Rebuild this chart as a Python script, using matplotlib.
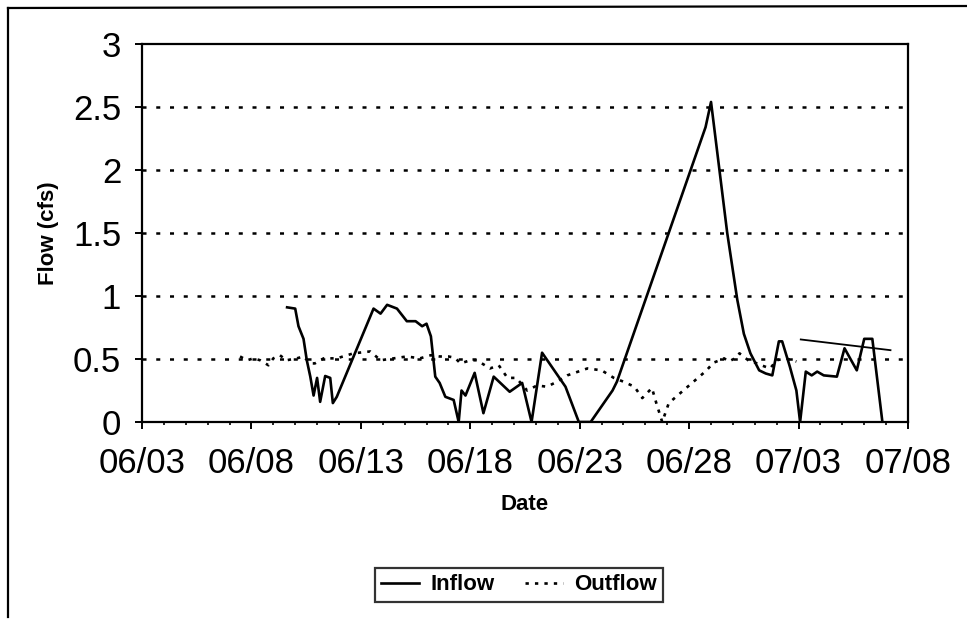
import numpy as np
import matplotlib
matplotlib.use('Agg')
from matplotlib import pyplot as plt
from matplotlib.lines import Line2D

plt.rcParams['font.family'] = ['Liberation Sans', 'DejaVu Sans']
plt.rcParams['lines.scale_dashes'] = False

# days after 06/03 and flow (cfs)
inflow_day = [6.63, 7.0, 7.15, 7.38, 7.53, 7.69, 7.84, 8.0, 8.14, 8.37, 8.6, 8.72, 8.9,
              10.58, 10.9, 11.2, 11.65, 12.1, 12.5, 12.8, 13.0, 13.2, 13.4, 13.6, 13.86,
              14.24, 14.47, 14.6, 14.78, 15.2, 15.6, 16.07, 16.8, 17.37, 17.8, 18.28,
              19.35, 19.96, 20.5, 21.5, 21.7, 25.75, 26.0, 26.74, 27.2, 27.5, 27.8,
              28.2, 28.5, 28.8, 29.1, 29.25, 29.6, 29.9, 30.07, 30.33, 30.6, 30.85,
              31.15, 31.75, 32.1, 32.66, 33.0, 33.37, 33.83]
inflow = [0.91, 0.90, 0.76, 0.66, 0.49, 0.36, 0.21, 0.35, 0.16, 0.365, 0.35, 0.15, 0.20,
          0.90, 0.86, 0.93, 0.90, 0.80, 0.80, 0.76, 0.78, 0.68, 0.36, 0.31, 0.20,
          0.175, 0.0, 0.25, 0.21, 0.39, 0.07, 0.36, 0.24, 0.31, 0.0, 0.55,
          0.28, 0.0, 0.0, 0.25, 0.32, 2.34, 2.54, 1.50, 0.97, 0.70, 0.545,
          0.41, 0.385, 0.37, 0.64, 0.64, 0.44, 0.25, 0.0, 0.40, 0.37, 0.40,
          0.37, 0.36, 0.585, 0.41, 0.66, 0.66, 0.0]

# short separate solid segment near the end
extra_day = [30.1, 34.2]
extra = [0.655, 0.57]

outflow_day = [4.48, 4.8, 5.1, 5.4, 5.78, 6.0, 6.3, 6.6, 7.07, 7.38, 7.69, 7.9, 8.3, 8.9,
               9.66, 10.43, 10.9, 11.5, 12.1, 12.7, 13.2, 13.6, 14.0, 14.3, 14.55, 15.0,
               15.3, 15.9, 16.3, 16.7, 17.1, 17.6, 18.05, 18.5, 18.97, 19.43, 20.35,
               21.0, 21.56, 22.0, 22.5, 22.86, 23.3, 23.5, 23.77, 24.07, 24.6, 25.2,
               25.8, 26.1, 26.4, 26.6, 26.8, 27.1, 27.3, 27.7, 28.1, 28.3, 28.7, 29.0,
               29.4, 29.9]
outflow = [0.52, 0.49, 0.505, 0.49, 0.45, 0.505, 0.53, 0.49, 0.505, 0.52, 0.465, 0.465,
           0.505, 0.505, 0.545, 0.56, 0.49, 0.505, 0.52, 0.505, 0.53, 0.52, 0.52, 0.51,
           0.465, 0.49, 0.49, 0.425, 0.45, 0.35, 0.35, 0.25, 0.29, 0.28, 0.32, 0.37,
           0.425, 0.41, 0.35, 0.32, 0.28, 0.19, 0.27, 0.15, 0.0, 0.15, 0.23, 0.32,
           0.41, 0.47, 0.49, 0.505, 0.48, 0.505, 0.545, 0.49, 0.465, 0.45, 0.425, 0.49,
           0.505, 0.48]

tick_days = [0, 5, 10, 15, 20, 25, 30, 35]
tick_labels = ['06/03', '06/08', '06/13', '06/18', '06/23', '06/28', '07/03', '07/08']
y_ticks = [0, 0.5, 1, 1.5, 2, 2.5, 3]
y_labels = ['0', '0.5', '1', '1.5', '2', '2.5', '3']

fig = plt.figure(figsize=(9.67, 6.29), dpi=100)
ax = fig.add_axes([142/967, 1 - 422/629, 766/967, 378/629])

# outer frame (left and top edges visible in the scan)
fig.add_artist(Line2D([8/967, 8/967], [1 - 617/629, 1 - 8/629], color='black', lw=1.6,
                      transform=fig.transFigure))
fig.add_artist(Line2D([8/967, 1.0], [1 - 8/629, 1 - 6/629], color='black', lw=1.6,
                      transform=fig.transFigure))

for yv in y_ticks[1:-1]:
    ax.axhline(yv, color='black', lw=1.8, dashes=(2.9, 7.0), zorder=1)

ax.plot(inflow_day, inflow, color='black', lw=1.9, label='Inflow', zorder=3)
ax.plot(extra_day, extra, color='black', lw=1.3, label='_nolegend_', zorder=3)
ax.plot(outflow_day, outflow, color='black', lw=1.9, dashes=(2.4, 4.4), label='Outflow', zorder=2)

ax.set_xlim(0, 35)
ax.set_ylim(0, 3)
ax.set_xticks(tick_days)
ax.set_xticklabels(tick_labels, fontsize=25)
ax.set_xticks(np.arange(0, 36, 1), minor=True)
ax.set_yticks(y_ticks)
ax.set_yticklabels(y_labels, fontsize=25)

ax.tick_params(axis='x', which='major', direction='out', length=5, width=1.4, pad=13)
ax.tick_params(axis='x', which='minor', direction='out', length=2.5, width=1.2)
ax.tick_params(axis='y', which='major', direction='out', length=5, width=1.4, pad=10)
for s in ax.spines.values():
    s.set_linewidth(1.6)
    s.set_color('black')

ax.set_xlabel('Date', fontsize=16, fontweight='bold')
ax.xaxis.set_label_coords(0.5, -0.19)
ax.set_ylabel('Flow (cfs)', fontsize=16, fontweight='bold', va='center')
ax.yaxis.set_label_coords(-0.1227, 0.5)

leg = fig.legend(loc='center', bbox_to_anchor=(519/967, 1 - 585/629), ncol=2,
                 prop={'size': 16, 'weight': 'bold'}, frameon=True, fancybox=False,
                 handlelength=1.7, columnspacing=1.4, handletextpad=0.5,
                 borderpad=0.3, borderaxespad=0)
leg.get_frame().set_edgecolor('black')
leg.get_frame().set_linewidth(1.6)

fig.savefig('out.png', dpi=100)
